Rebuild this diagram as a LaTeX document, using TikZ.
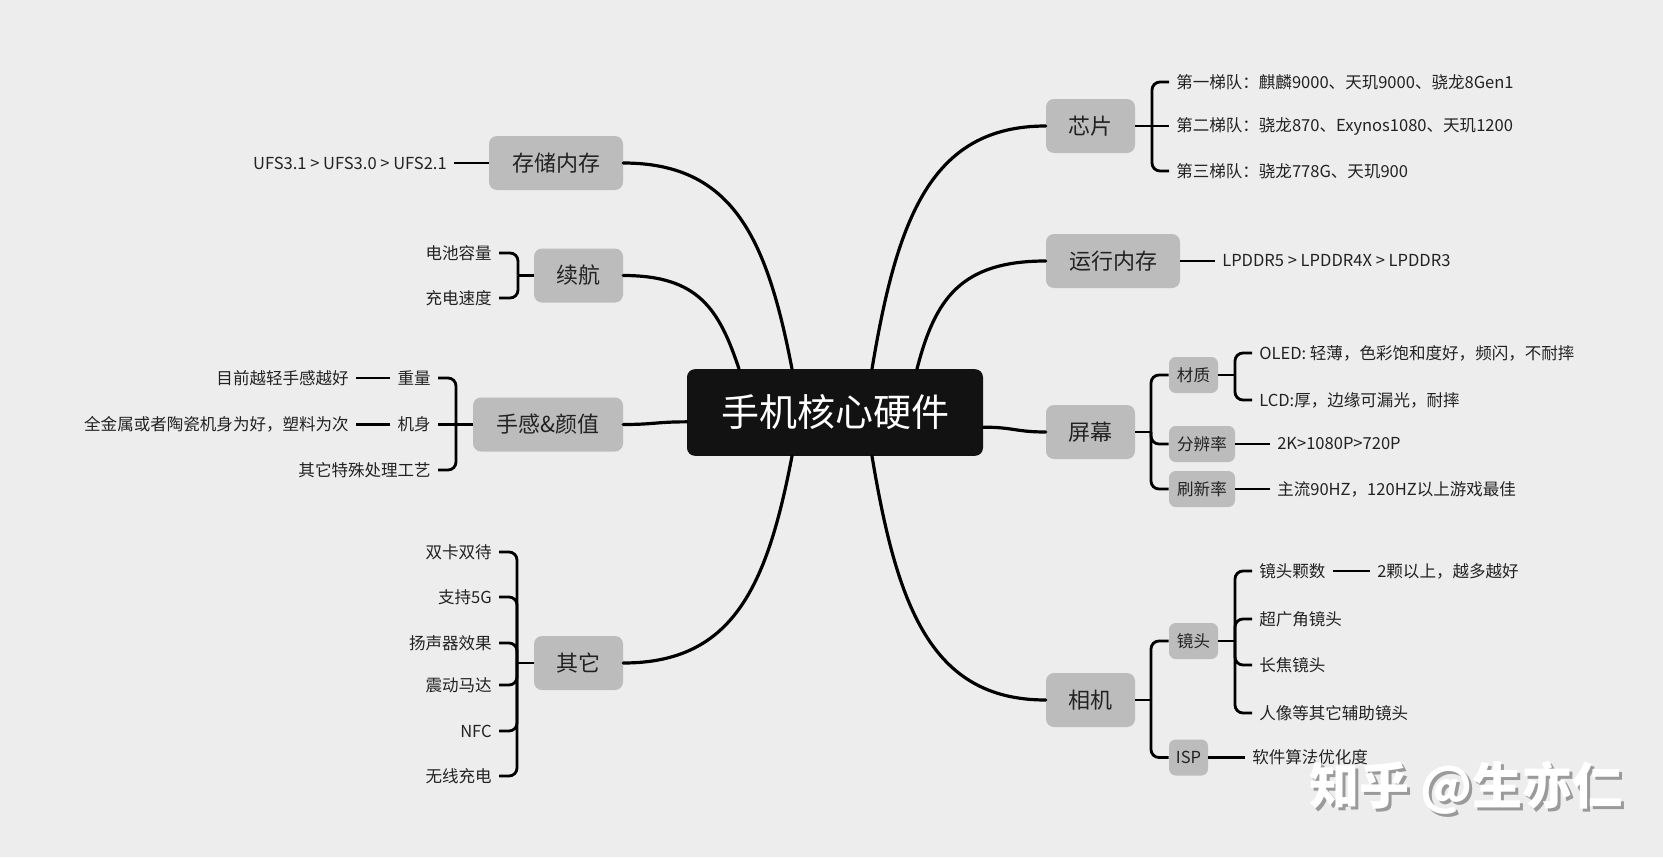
\documentclass[tikz,border=0pt]{standalone}
\usepackage{fontspec}
\setmainfont{Noto Sans CJK SC}
\usetikzlibrary{calc}
\definecolor{bg}{HTML}{EDEDED}
\definecolor{boxc}{HTML}{BCBCBC}
\definecolor{corec}{HTML}{121212}
\definecolor{txt}{HTML}{222222}
\definecolor{shadowc}{HTML}{9A9A9A}
\begin{document}
\begin{tikzpicture}[x=0.75pt,y=-0.75pt,
  big/.style={fill=boxc, rounded corners=6pt, minimum height=40.5pt, inner sep=0pt, font=\fontsize{16.5}{18}\selectfont, text=txt},
  small/.style={fill=boxc, rounded corners=5pt, minimum height=27pt, inner sep=0pt, font=\fontsize{12.4}{14}\selectfont, text=txt},
  corebox/.style={fill=corec, rounded corners=6pt, minimum width=222pt, minimum height=65pt, inner sep=0pt, font=\fontsize{28.5}{30}\selectfont, text=white},
  leafR/.style={anchor=west, inner xsep=5.25pt, inner ysep=0pt, font=\fontsize{12.4}{14}\selectfont, text=txt},
  leafL/.style={anchor=east, inner xsep=5.25pt, inner ysep=0pt, font=\fontsize{12.4}{14}\selectfont, text=txt},
  mainline/.style={line width=2.4pt, line cap=round},
  br/.style={line width=2.1pt, rounded corners=6pt},
  wmark/.style={font=\bfseries\fontsize{37.5}{40}\selectfont, inner sep=0pt}
]
\useasboundingbox (0,0) rectangle (1663,857);
\fill[bg] (0,0) rectangle (1663,857);

% central and branch nodes
\node[corebox] (core) at (835,412.5) {手机核心硬件};
\node[big, minimum width=66.75pt] (chip) at (1090.5,126) {芯片};
\node[big, minimum width=100.5pt] (ram) at (1113,261) {运行内存};
\node[big, minimum width=66.75pt] (screen) at (1090.5,432) {屏幕};
\node[big, minimum width=66.75pt] (camera) at (1090.5,700) {相机};
\node[big, minimum width=100.5pt] (storage) at (556,163) {存储内存};
\node[big, minimum width=66.75pt] (endur) at (578.5,275.5) {续航};
\node[big, minimum width=112.5pt] (feel) at (548,424.5) {手感\&颜值};
\node[big, minimum width=66.75pt] (other) at (578.5,663) {其它};

% sub boxes
\node[small, minimum width=36.75pt] (mat) at (1193.5,375) {材质};
\node[small, minimum width=49.5pt] (res) at (1202,444) {分辨率};
\node[small, minimum width=49.5pt] (rate) at (1202,489) {刷新率};
\node[small, minimum width=36.75pt] (lens) at (1193.5,641) {镜头};
\node[small, minimum width=29.25pt] (isp) at (1188.5,757.5) {ISP};

% right leaves
\node[leafR] (c1) at (1169,82) {第一梯队：麒麟9000、天玑9000、骁龙8Gen1};
\node[leafR] (c2) at (1169,126) {第二梯队：骁龙870、Exynos1080、天玑1200};
\node[leafR] (c3) at (1169,171) {第三梯队：骁龙778G、天玑900};
\node[leafR] (ramc) at (1215,261) {LPDDR5 > LPDDR4X > LPDDR3};
\node[leafR] (oled) at (1252,353) {OLED: 轻薄，色彩饱和度好，频闪，不耐摔};
\node[leafR] (lcd) at (1252,400) {LCD:厚，边缘可漏光，耐摔};
\node[leafR] (resc) at (1270,444) {2K>1080P>720P};
\node[leafR] (ratec) at (1270,489) {主流90HZ，120HZ以上游戏最佳};
\node[leafR] (l1) at (1252,571) {镜头颗数};
\node[leafR] (l1c) at (1370,571) {2颗以上，越多越好};
\node[leafR] (l2) at (1252,619) {超广角镜头};
\node[leafR] (l3) at (1252,665) {长焦镜头};
\node[leafR] (l4) at (1252,713) {人像等其它辅助镜头};
\node[leafR] (ispc) at (1245,757.5) {软件算法优化度};

% left leaves
\node[leafL] (storc) at (454,163) {UFS3.1 > UFS3.0 > UFS2.1};
\node[leafL] (e1) at (499,253) {电池容量};
\node[leafL] (e2) at (499,298) {充电速度};
\node[leafL] (f1) at (438,378) {重量};
\node[leafL] (f2) at (438,424.5) {机身};
\node[leafL] (f3) at (438,470) {其它特殊处理工艺};
\node[leafL] (f1c) at (356,378) {目前越轻手感越好};
\node[leafL] (f2c) at (356,424.5) {全金属或者陶瓷机身为好，塑料为次};
\node[leafL] (o1) at (499,552) {双卡双待};
\node[leafL] (o2) at (499,597) {支持5G};
\node[leafL] (o3) at (499,643) {扬声器效果};
\node[leafL] (o4) at (499,685) {震动马达};
\node[leafL] (o5) at (499,731) {NFC};
\node[leafL] (o6) at (499,776) {无线充电};

% junctions
\coordinate (chipJ) at (1152,126);
\coordinate (scrJ) at (1151,432);
\coordinate (matJ) at (1235,375);
\coordinate (camJ) at (1151,700);
\coordinate (lensJ) at (1235,641);
\coordinate (endJ) at (518,275.5);
\coordinate (feelJ) at (456,424.5);
\coordinate (othJ) at (517,663);

% main curves
\draw[mainline] ([xshift=-32.25pt]core.north) .. controls +(-25,-130) and +(110,0) .. (storage.east);
\draw[mainline] ([xshift=-72pt]core.north) .. controls +(-20,-60) and +(75,0) .. (endur.east);
\draw[mainline] ([xshift=27.75pt]core.north) .. controls +(25,-150) and +(-115,0) .. (chip.west);
\draw[mainline] ([xshift=61.5pt]core.north) .. controls +(18,-70) and +(-85,0) .. (ram.west);
\draw[mainline] ([xshift=-32.25pt]core.south) .. controls +(-25,130) and +(110,0) .. (other.east);
\draw[mainline] ([xshift=27.75pt]core.south) .. controls +(25,150) and +(-115,0) .. (camera.west);
\draw[mainline] ([yshift=-7pt]core.west) .. controls +(-30,0) and +(30,0) .. (feel.east);
\draw[mainline] ([yshift=-11pt]core.east) .. controls +(30,0) and +(-30,0) .. (screen.west);

% chip
\draw[br] (chip.east) -- (chipJ);
\draw[br] (chipJ) |- (c1.west);
\draw[br] (chipJ) -- (c2.west);
\draw[br] (chipJ) |- (c3.west);
% ram
\draw[br] (ram.east) -- (ramc.west);
% screen
\draw[br] (screen.east) -- (scrJ);
\draw[br] (scrJ) |- (mat.west);
\draw[br] (scrJ) |- (res.west);
\draw[br] (scrJ) |- (rate.west);
\draw[br] (mat.east) -- (matJ);
\draw[br] (matJ) |- (oled.west);
\draw[br] (matJ) |- (lcd.west);
\draw[br] (res.east) -- (resc.west);
\draw[br] (rate.east) -- (ratec.west);
% camera
\draw[br] (camera.east) -- (camJ);
\draw[br] (camJ) |- (lens.west);
\draw[br] (camJ) |- (isp.west);
\draw[br] (lens.east) -- (lensJ);
\draw[br] (lensJ) |- (l1.west);
\draw[br] (lensJ) |- (l2.west);
\draw[br] (lensJ) |- (l3.west);
\draw[br] (lensJ) |- (l4.west);
\draw[br] (l1.east) -- (l1c.west);
\draw[br] (isp.east) -- (ispc.west);
% storage
\draw[br] (storage.west) -- (storc.east);
% endurance
\draw[br] (endur.west) -- (endJ);
\draw[br] (endJ) |- (e1.east);
\draw[br] (endJ) |- (e2.east);
% feel
\draw[br] (feel.west) -- (feelJ);
\draw[br] (feelJ) |- (f1.east);
\draw[br] (feelJ) -- (f2.east);
\draw[br] (feelJ) |- (f3.east);
\draw[br] (f1.west) -- (f1c.east);
\draw[br] (f2.west) -- (f2c.east);
% other
\draw[br] (other.west) -- (othJ);
\draw[br] (othJ) |- (o1.east);
\draw[br] (othJ) |- (o2.east);
\draw[br] (othJ) |- (o3.east);
\draw[br] (othJ) |- (o4.east);
\draw[br] (othJ) |- (o5.east);
\draw[br] (othJ) |- (o6.east);

% watermark
\node[wmark, text=shadowc] (wmshadow) at (1469,790.5) {知乎 @生亦仁};
\node[wmark, text=white] (wm) at (1466,787.5) {知乎 @生亦仁};
\end{tikzpicture}
\end{document}
